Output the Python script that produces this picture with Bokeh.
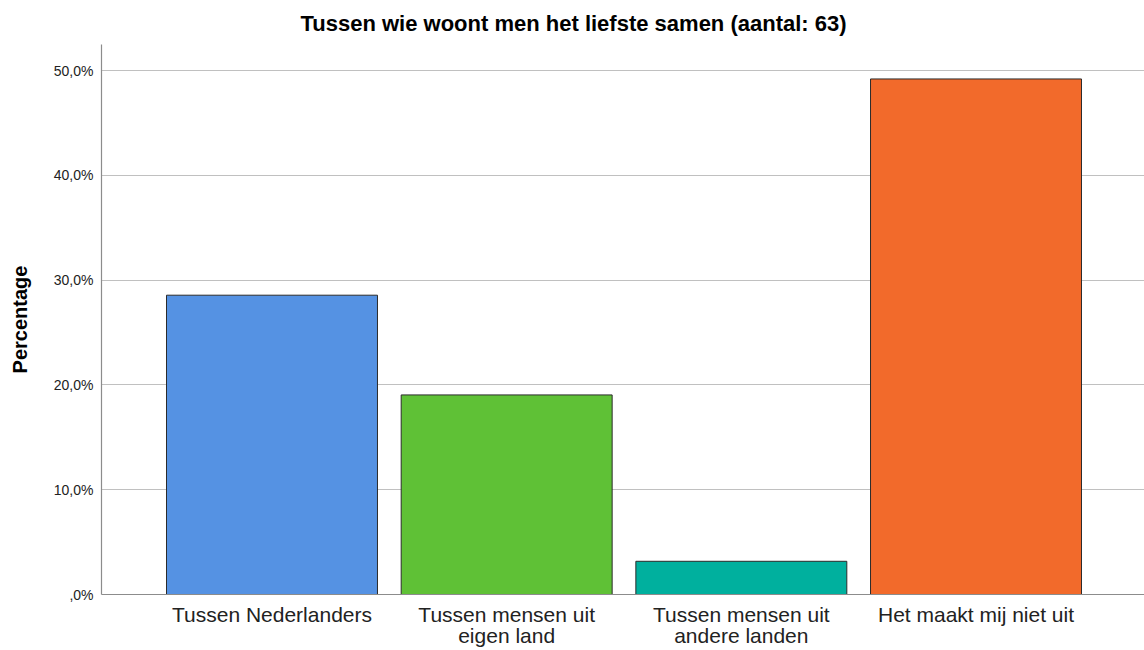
from bokeh.plotting import figure
from bokeh.models import ColumnDataSource, FixedTicker, Range1d
from bokeh.embed import file_html
from bokeh.resources import INLINE

categories = ["Tussen Nederlanders", "Tussen mensen uit\neigen land",
              "Tussen mensen uit\nandere landen", "Het maakt mij niet uit"]
percentages = [28.57, 19.05, 3.17, 49.21]
colors = ["#5592e3", "#5fc136", "#00b09e", "#f26a2b"]
y_ticks = [0, 10, 20, 30, 40, 50]
y_tick_labels = [",0%", "10,0%", "20,0%", "30,0%", "40,0%", "50,0%"]
title_text = "Tussen wie woont men het liefste samen (aantal: 63)"

xpos = list(range(len(categories)))
src = ColumnDataSource(dict(x=xpos, top=percentages, color=colors))

p = figure(width=1144, height=650, output_backend="svg", toolbar_location=None,
           x_range=Range1d(-0.7265, 3.718), y_range=Range1d(0, 52.5),
           title=title_text,
           min_border_left=101, min_border_right=0, min_border_top=44, min_border_bottom=0)

p.vbar(x="x", top="top", width=0.899, bottom=0, fill_color="color",
       line_color="#2b2b2b", line_width=1, source=src)

p.title.text_font = "Liberation Sans"
p.title.text_font_size = "22px"
p.title.text_font_style = "bold"
p.title.align = "left"
p.title.offset = 199
p.title.standoff = 17
p.title.text_color = "#000000"

p.outline_line_color = None
p.xgrid.grid_line_color = None
p.ygrid.grid_line_color = "#c0c0c0"
p.ygrid.grid_line_width = 1.2

p.yaxis.ticker = FixedTicker(ticks=y_ticks)
p.yaxis.major_label_overrides = {t: l for t, l in zip(y_ticks, y_tick_labels)}
p.yaxis.axis_label = "Percentage"
p.yaxis.axis_label_text_font = "Liberation Sans"
p.yaxis.axis_label_text_font_size = "20px"
p.yaxis.axis_label_text_font_style = "bold"
p.yaxis.axis_label_text_color = "#000000"
p.yaxis.axis_label_standoff = 20
p.yaxis.major_label_text_font = "Liberation Sans"
p.yaxis.major_label_text_font_size = "14px"
p.yaxis.major_label_text_color = "#222222"

p.xaxis.ticker = FixedTicker(ticks=xpos)
p.xaxis.major_label_overrides = {i: c for i, c in zip(xpos, categories)}
p.xaxis.major_label_text_font = "Liberation Sans"
p.xaxis.major_label_text_font_size = "21px"
p.xaxis.major_label_text_color = "#222222"
p.xaxis.major_label_text_line_height = 0.95

for ax in (p.xaxis, p.yaxis):
    ax.axis_line_color = "#8c8c8c"
    ax.axis_line_width = 1.2
    ax.major_tick_line_color = None
    ax.minor_tick_line_color = None
    ax.major_tick_out = 0
    ax.major_tick_in = 0
p.yaxis.major_label_standoff = 8
p.xaxis.major_label_standoff = 8

open("out.html", "w").write(file_html(p, INLINE))
